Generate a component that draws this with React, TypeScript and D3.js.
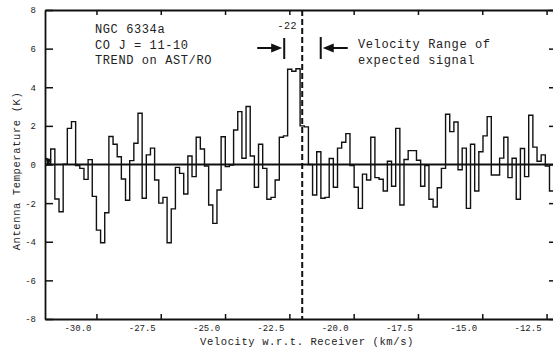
import { useEffect, useRef } from 'react';
import * as d3 from 'd3';

// channel grid of the spectrum (km/s)
const chanStart = -31.94;
const chanWidth = 0.1616;

// antenna temperature per channel (K), read left to right
const temps = [
  0.05, 0.8, -1.79, -2.45, 0.02, 1.87, 2.22, -0.05, -0.2, -0.77,
  0.25, -1.65, -3.4, -4.05, -2.5, 1.45, 1.05, 0.4, -0.75, -1.85,
  0.2, 1.1, 2.65, -1.75, 0.5, 0.85, -0.8, -2.0, -1.7, -4.05,
  -2.3, -0.15, -0.46, -1.53, 0.44, -0.63, 1.41, 0.8, -0.08, -2.1,
  -3.05, -1.32, 1.44, -0.11, -0.03, 1.79, 2.74, 0.32, 3.0, 0.44,
  -1.18, 1.05, -0.2, -1.8, -1.7, -0.8, 1.41, 1.48, 4.93, 4.83,
  4.96, 2.0, 1.95, 0.0, -1.58, 0.66, -1.75, -1.7, 0.31, -1.18,
  0.85, 1.15, 1.6, -0.05, -1.18, -2.27, -0.5, -0.8, 1.41, -0.68,
  -0.76, -1.37, 0.17, -1.13, 1.87, -2.1, 0.26, 0.72, 0.72, 0.22,
  -1.13, -0.05, -1.8, -2.2, -1.2, -0.2, 2.6, 1.7, 2.2, -0.27,
  0.85, -2.27, 1.05, -1.37, 0.66, 1.48, 2.48, -0.54, -0.54, 0.33,
  1.41, -0.68, 0.32, -1.8, 0.83, -0.63, 2.55, 0.9, 0.17, 0.5,
  -0.08, -1.37,
];

const xTicks = [-30, -27.5, -25, -22.5, -20, -17.5, -15, -12.5];
const yTicks = [-8, -6, -4, -2, 0, 2, 4, 6, 8];

const markVel = -22;
const rangeLo = -22.7;
const rangeHi = -21.28;

const sourceLines = ['NGC 6334a', 'CO J = 11-10', 'TREND on AST/RO'];
const rangeLines = ['Velocity Range of', 'expected signal'];

const FONT = "'Liberation Mono', 'Courier New', monospace";

export default function App() {
  const ref = useRef<SVGSVGElement>(null);

  useEffect(() => {
    const width = 553, height = 350;
    const svg = d3.select(ref.current);
    svg.selectAll('*').remove();
    svg.attr('width', width).attr('height', height);

    const x = d3.scaleLinear().domain([-32.0, -12.25]).range([45, 553]);
    const y = d3.scaleLinear().domain([-8, 8]).range([319, 10]);
    const [x0, x1] = x.range();
    const [yb, yt] = y.range();

    svg.append('rect').attr('width', width).attr('height', height).attr('fill', '#fff');

    // axes (labels sit left of their ticks, as on the original plot)
    const bottom = svg.append('g')
      .attr('transform', `translate(0,${yb})`)
      .call(d3.axisBottom(x).tickValues(xTicks).tickFormat((d: any) => d.toFixed(1))
        .tickSizeInner(-5).tickSizeOuter(0).tickPadding(6));
    bottom.selectAll('text').attr('dx', -19);
    const top = svg.append('g')
      .attr('transform', `translate(0,${yt})`)
      .call(d3.axisTop(x).tickValues(xTicks).tickFormat(() => '')
        .tickSizeInner(-5).tickSizeOuter(0));
    const left = svg.append('g')
      .attr('transform', `translate(${x0},0)`)
      .call(d3.axisLeft(y).tickValues(yTicks).tickFormat((d: any) => String(d))
        .tickSizeInner(-8).tickSizeOuter(0).tickPadding(9));
    const right = svg.append('g')
      .attr('transform', `translate(${x1 + 2},0)`)
      .call(d3.axisRight(y).tickValues(yTicks).tickFormat(() => '')
        .tickSizeInner(-6).tickSizeOuter(0));

    [bottom, top, left, right].forEach(g => {
      g.select('.domain').attr('stroke', '#111').attr('stroke-width', 1.8);
      g.selectAll('.tick line').attr('stroke', '#111').attr('stroke-width', 1.5);
      g.selectAll('text')
        .attr('font-family', FONT)
        .attr('font-size', 9)
        .attr('fill', '#222');
    });

    // zero line
    svg.append('line')
      .attr('x1', x0).attr('x2', x1)
      .attr('y1', y(0)).attr('y2', y(0))
      .attr('stroke', '#111').attr('stroke-width', 2);

    // spectrum as steps
    const pts: [number, number][] = temps.map((t, i) => [chanStart + i * chanWidth, t]);
    pts.push([chanStart + temps.length * chanWidth, temps[temps.length - 1]]);
    const line = d3.line<[number, number]>()
      .x(d => x(d[0]))
      .y(d => y(d[1]))
      .curve(d3.curveStepAfter);
    svg.append('path')
      .datum(pts)
      .attr('d', line)
      .attr('fill', 'none')
      .attr('stroke', '#111')
      .attr('stroke-width', 1.4);

    // start marker
    const mx = x(chanStart) + 1, my = y(0.1);
    svg.append('path')
      .attr('d', `M${mx - 2},${my - 5}L${mx + 4},${my - 3}L${mx},${my + 3}Z`)
      .attr('fill', '#111');

    // dashed marker at -22
    svg.append('line')
      .attr('x1', x(markVel)).attr('x2', x(markVel))
      .attr('y1', yt).attr('y2', yb)
      .attr('stroke', '#111').attr('stroke-width', 2)
      .attr('stroke-dasharray', '6,3');

    svg.append('text')
      .attr('x', x(markVel) - 15).attr('y', 29)
      .attr('text-anchor', 'middle')
      .attr('font-family', FONT).attr('font-size', 10).attr('letter-spacing', 0.5)
      .attr('fill', '#222')
      .text(String(markVel));

    // velocity range arrows
    const ay = 48;
    const lo = x(rangeLo), hi = x(rangeHi);
    const arrows = svg.append('g').attr('stroke', '#111').attr('fill', '#111');
    arrows.append('line').attr('x1', lo).attr('x2', lo).attr('y1', 38).attr('y2', 59).attr('stroke-width', 2);
    arrows.append('line').attr('x1', lo - 27).attr('x2', lo - 10).attr('y1', ay).attr('y2', ay).attr('stroke-width', 2);
    arrows.append('path').attr('d', `M${lo - 2},${ay}L${lo - 13},${ay - 4.5}L${lo - 13},${ay + 4.5}Z`).attr('stroke', 'none');
    arrows.append('line').attr('x1', hi).attr('x2', hi).attr('y1', 37).attr('y2', 59).attr('stroke-width', 2);
    arrows.append('line').attr('x1', hi + 10).attr('x2', hi + 27).attr('y1', ay).attr('y2', ay).attr('stroke-width', 2);
    arrows.append('path').attr('d', `M${hi + 2},${ay}L${hi + 13},${ay - 4.5}L${hi + 13},${ay + 4.5}Z`).attr('stroke', 'none');

    // annotations
    svg.append('g')
      .selectAll('text')
      .data(sourceLines)
      .join('text')
      .attr('x', 95)
      .attr('y', (_, i) => 33 + i * 15.5)
      .attr('font-family', FONT).attr('font-size', 12).attr('letter-spacing', 0.6)
      .attr('fill', '#222')
      .style('white-space', 'pre')
      .text(d => d);

    svg.append('g')
      .selectAll('text')
      .data(rangeLines)
      .join('text')
      .attr('x', 358)
      .attr('y', (_, i) => 48 + i * 15.5)
      .attr('font-family', FONT).attr('font-size', 12).attr('letter-spacing', 0.6)
      .attr('fill', '#222')
      .text(d => d);

    // axis titles
    svg.append('text')
      .attr('x', 307).attr('y', 345)
      .attr('text-anchor', 'middle')
      .attr('font-family', FONT).attr('font-size', 10.5).attr('letter-spacing', 0.6)
      .attr('fill', '#222')
      .text('Velocity w.r.t. Receiver (km/s)');

    svg.append('text')
      .attr('transform', 'translate(20,171) rotate(-90)')
      .attr('text-anchor', 'middle')
      .attr('font-family', FONT).attr('font-size', 10.5).attr('letter-spacing', 0.6)
      .attr('fill', '#222')
      .text('Antenna Temperature (K)');
  }, []);

  return (
    <div style={{ position: 'fixed', left: 0, top: 0 }}>
      <svg ref={ref} style={{ display: 'block' }}></svg>
    </div>
  );
}
